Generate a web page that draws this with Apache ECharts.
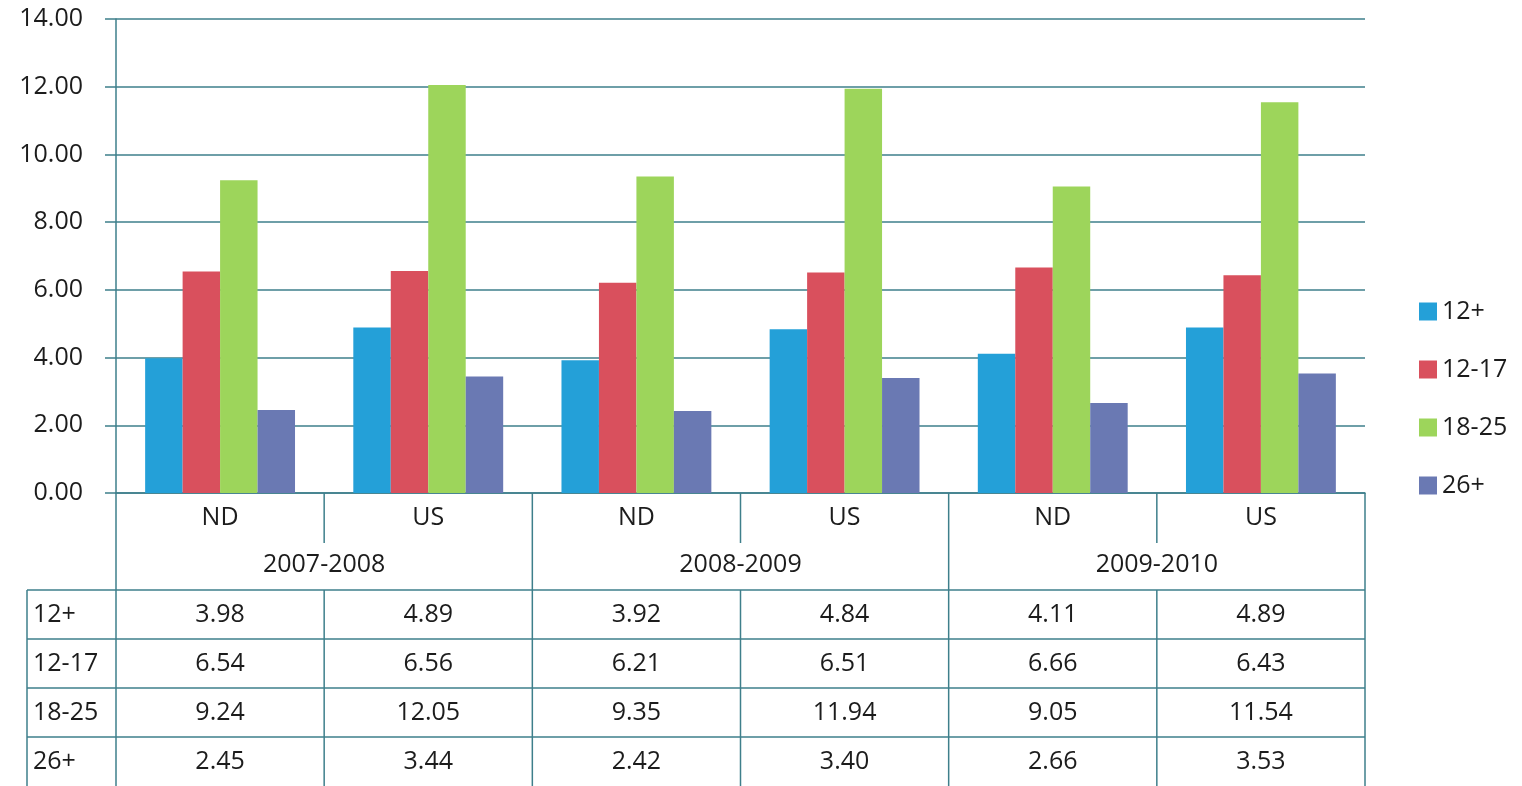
<!DOCTYPE html>
<html><head><meta charset="utf-8">
<script src="https://cdn.jsdelivr.net/npm/echarts@6/dist/echarts.min.js"></script>
<style>html,body{margin:0;padding:0;background:#fff}#c{width:1522px;height:786px}</style>
</head><body><div id="c"></div><script>
const regions = ['ND','US','ND','US','ND','US'];
const periods = ['2007-2008','2008-2009','2009-2010'];
const seriesNames = ['12+','12-17','18-25','26+'];
const v12plus = [3.98,4.89,3.92,4.84,4.11,4.89];
const v1217 = [6.54,6.56,6.21,6.51,6.66,6.43];
const v1825 = [9.24,12.05,9.35,11.94,9.05,11.54];
const v26plus = [2.45,3.44,2.42,3.40,2.66,3.53];
const yMin = 0, yMax = 14, yStep = 2;

const seriesData = [v12plus, v1217, v1825, v26plus];
const colors = ['#24a0d8','#d9505d','#9dd55b','#6a79b3'];
const lineColor = '#3e7f8b';
const textColor = '#1c1c1c';
const FONT = '"Open Sans", sans-serif';
const FS = 25;

const chart = echarts.init(document.getElementById('c'), null, {renderer:'canvas'});
const option = {
  animation:false,
  backgroundColor:'#ffffff',
  textStyle:{fontFamily:FONT},
  grid:{left:116,right:157,top:19,bottom:293,containLabel:false},
  legend:{
    orient:'vertical', left:1414, top:294, itemWidth:18, itemHeight:18, itemGap:33,
    icon:'rect', data:seriesNames,
    textStyle:{fontSize:FS,color:textColor,fontFamily:FONT}, itemStyle:{borderWidth:0}
  },
  xAxis:{
    type:'category', data:regions,
    axisLine:{show:true,lineStyle:{color:lineColor,width:1.5}},
    axisTick:{show:false}, axisLabel:{show:false}
  },
  yAxis:{
    type:'value', min:yMin, max:yMax, interval:yStep,
    axisLine:{show:true,lineStyle:{color:lineColor,width:1.5}},
    axisTick:{show:true,length:11,inside:false,lineStyle:{color:lineColor,width:1.5}},
    splitLine:{show:true,lineStyle:{color:lineColor,width:1.5}},
    axisLabel:{fontSize:FS,color:textColor,fontFamily:FONT,margin:33,formatter:v=>v.toFixed(2)}
  },
  series: seriesNames.map((n,i)=>({
    name:n, type:'bar', data:seriesData[i], barGap:'0%', barCategoryGap:'28%',
    itemStyle:{color:colors[i]}
  }))
};
chart.setOption(option);

// Build the data table below the axis using the library's category scale
const px = i => chart.convertToPixel({xAxisIndex:0}, i);
const band = px(1) - px(0);
const bounds = regions.map((_,i)=>px(i)-band/2).concat([px(regions.length-1)+band/2]);
const y0 = chart.convertToPixel({yAxisIndex:0}, 0);
const H = 786;
const row1Bottom = y0 + 50;
const row2Bottom = y0 + 97;
const rowH = 49;
const tableLeft = 27;
const g = [];
function line(x1,y1,x2,y2){ g.push({type:'line',silent:true,shape:{x1,y1,x2,y2},style:{stroke:lineColor,lineWidth:1.5}}); }
function text(t,x,y,align){ g.push({type:'text',silent:true,x,y,style:{text:t,fill:textColor,font:FS+'px '+FONT,textAlign:align||'center',textVerticalAlign:'middle'}}); }
regions.forEach((r,i)=>text(r,px(i),y0+25));
periods.forEach((p,k)=>text(p,(bounds[2*k]+bounds[2*k+2])/2,y0+72));
for(let i=0;i<bounds.length;i++){
  if(i%2===0){ line(bounds[i],y0,bounds[i],H); }
  else { line(bounds[i],y0,bounds[i],row1Bottom); line(bounds[i],row2Bottom,bounds[i],H); }
}
line(tableLeft,row2Bottom,tableLeft,H);
for(let r=0;r<seriesNames.length;r++){
  const yt = row2Bottom + r*rowH;
  line(tableLeft,yt,bounds[bounds.length-1],yt);
  const yc = yt + rowH/2;
  text(seriesNames[r],tableLeft+6,yc,'left');
  seriesData[r].forEach((v,i)=>text(v.toFixed(2),px(i),yc));
}
chart.setOption({graphic:g});
</script></body></html>
